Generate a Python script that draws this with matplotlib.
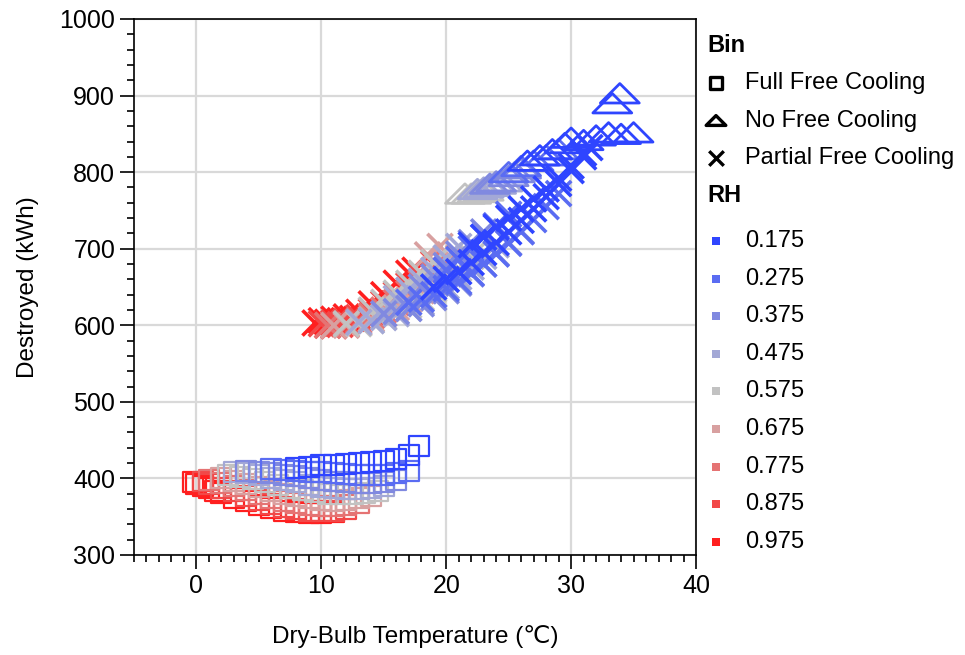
import numpy as np
import matplotlib
matplotlib.use('Agg')
import matplotlib.pyplot as plt
from matplotlib.path import Path

plt.rcParams['font.family'] = ['Liberation Sans', 'DejaVu Sans']

# RH bins and their colours (blue = dry, red = humid)
rh_levels = [0.175, 0.275, 0.375, 0.475, 0.575, 0.675, 0.775, 0.875, 0.975]
rh_colors = ['#2f45ff', '#5a6cf2', '#8089e0', '#a3a8d6', '#c2c2c2',
             '#d8a0a0', '#e57373', '#f24848', '#ff1f1f']

# Full Free Cooling (squares)
ffc_temp = [-0.3, 0, 0.5, 1, 1.5, 2, 3, 4, 5, 6, 7, 8, 9, 10, 11,
            0.5, 1, 2, 3, 4, 5, 6, 7, 8, 9, 10, 11, 12,
            1, 2, 3, 4, 5, 6, 7, 8, 9, 10, 11, 12, 13,
            2, 3, 4, 5, 6, 7, 8, 9, 10, 11, 12, 13, 14,
            2.5, 3.5, 4.5, 5.5, 6.5, 7.5, 8.5, 9.5, 10.5, 11.5, 12.5, 13.5, 14.5,
            3, 4, 5, 6, 7, 8, 9, 10, 11, 12, 13, 14, 15,
            4, 5, 6, 7, 8, 9, 10, 11, 12, 13, 14, 15, 16,
            6, 7, 8, 9, 10, 11, 12, 13, 14, 15, 16, 17,
            8, 9, 10, 11, 12, 13, 14, 15, 16, 17, 17.8]
ffc_kwh = [395, 393, 390, 387, 384, 381, 375, 370, 365, 361, 358, 356, 355, 355, 356,
           396, 393, 388, 383, 377, 372, 367, 363, 360, 358, 357, 358, 360,
           398, 394, 390, 385, 380, 375, 371, 368, 365, 364, 364, 365, 368,
           400, 397, 393, 389, 384, 380, 377, 374, 372, 371, 372, 374, 377,
           404, 402, 399, 395, 391, 388, 385, 382, 380, 379, 379, 381, 384,
           408, 407, 404, 401, 398, 395, 392, 389, 387, 386, 386, 387, 390,
           410, 409, 407, 405, 403, 400, 398, 396, 395, 394, 394, 395, 398,
           412, 411, 410, 409, 408, 407, 406, 405, 405, 405, 407, 410,
           414, 415, 417, 418, 419, 420, 421, 423, 426, 430, 442]
ffc_rh = ([0.975] * 15 + [0.875] * 13 + [0.775] * 13 + [0.675] * 13 +
          [0.575] * 13 + [0.475] * 13 + [0.375] * 13 + [0.275] * 12 + [0.175] * 11)

# No Free Cooling (triangles)
nfc_temp = [21.5, 22, 22.5, 23,
            22.5, 23, 23.5, 24, 24.5,
            23.5, 24, 25, 25.5, 26,
            25, 26, 27, 28, 29,
            26.5, 27.5, 28.5, 29.5, 30, 31, 32, 33, 34, 35, 33.3, 33.9]
nfc_kwh = [772, 772, 774, 776,
           778, 780, 782, 785, 788,
           785, 788, 795, 800, 805,
           800, 808, 815, 822, 830,
           815, 822, 830, 838, 845, 842, 848, 852, 850, 852, 890, 903]
nfc_rh = [0.575] * 4 + [0.475] * 5 + [0.375] * 5 + [0.275] * 5 + [0.175] * 12

# Partial Free Cooling (crosses)
pfc_temp = [9.5, 10, 10.5, 11, 11.5, 12, 12.5, 13, 14, 15, 16, 17, 17.5,
            10, 10.5, 11, 11.5, 12, 13, 14, 15, 16, 17, 18, 19,
            10.5, 11, 12, 13, 14, 15, 16, 17, 18, 19, 20,
            11, 12, 13, 14, 15, 16, 17, 18, 19, 20, 21, 18.5, 19.5,
            12, 13, 14, 15, 16, 17, 18, 19, 20, 21, 22,
            14, 15, 16, 17, 18, 19,
            13, 14, 15, 16, 17, 18, 19, 20, 21, 22, 23, 24,
            16, 17, 18, 19, 20, 21,
            15, 16, 17, 18, 19, 20, 21, 22, 23, 24, 25, 26,
            18, 19, 20, 21, 22, 23,
            17, 18, 19, 20, 21, 22, 23, 24, 25, 26, 27, 28, 29,
            20, 21, 22, 23, 24, 25,
            19, 20, 21, 22, 23, 24, 25, 26, 27, 28, 29, 30, 31, 31.5,
            22, 23, 24, 25, 26, 27, 28, 29, 30, 31]
pfc_kwh = [603, 606, 604, 608, 606, 611, 609, 617, 628, 640, 655, 668, 672,
           602, 600, 603, 601, 605, 610, 618, 628, 640, 652, 665, 680,
           600, 599, 601, 606, 612, 620, 630, 642, 655, 668, 683,
           600, 600, 603, 608, 615, 623, 633, 645, 658, 672, 688, 692, 703,
           602, 602, 606, 611, 618, 626, 636, 647, 660, 674, 690,
           620, 630, 642, 655, 668, 682,
           604, 606, 610, 615, 622, 630, 640, 651, 663, 676, 690, 705,
           635, 646, 658, 672, 688, 703,
           615, 618, 622, 628, 636, 645, 655, 667, 680, 694, 708, 723,
           650, 663, 678, 693, 708, 722,
           630, 634, 640, 648, 657, 668, 680, 693, 707, 722, 738, 755, 772,
           672, 686, 700, 715, 730, 745,
           650, 660, 670, 682, 695, 708, 722, 737, 752, 768, 785, 802, 820, 832,
           705, 715, 728, 740, 752, 765, 778, 792, 808, 825]
pfc_rh = ([0.975] * 13 + [0.875] * 12 + [0.775] * 11 + [0.675] * 13 +
          [0.575] * 11 + [0.575] * 6 + [0.475] * 12 + [0.475] * 6 +
          [0.375] * 12 + [0.375] * 6 + [0.275] * 13 + [0.275] * 6 +
          [0.175] * 14 + [0.175] * 10)

color_of = dict(zip(rh_levels, rh_colors))

# wide, flat triangle like the reference
flat_tri = Path([(-1, -0.5), (1, -0.5), (0, 0.5), (-1, -0.5)],
                [Path.MOVETO, Path.LINETO, Path.LINETO, Path.CLOSEPOLY])

fig = plt.figure(figsize=(9.65, 6.55), dpi=100)
ax = fig.add_axes([134 / 965, 1 - 555 / 655, 562 / 965, 536 / 655])

ax.scatter(nfc_temp, nfc_kwh, s=784, marker=flat_tri, facecolors='none',
           edgecolors=[color_of[r] for r in nfc_rh], linewidths=2, zorder=3)
ax.scatter(pfc_temp, pfc_kwh, s=330, marker='x',
           c=[color_of[r] for r in pfc_rh], linewidths=2.6, zorder=3)
ax.scatter(ffc_temp, ffc_kwh, s=207, marker='s', facecolors='none',
           edgecolors=[color_of[r] for r in ffc_rh], linewidths=1.6, zorder=3)

ax.set_xlim(-5, 40)
ax.set_ylim(300, 1000)
ax.set_xticks(np.arange(0, 41, 10))
ax.set_xticks(np.arange(-5, 41, 1), minor=True)
ax.set_yticks(np.arange(300, 1001, 100))
ax.set_yticks(np.arange(300, 1001, 20), minor=True)
ax.grid(True, which='major', color='#d9d9d9', linewidth=1.6, zorder=0)
ax.set_axisbelow(True)
for sp in ax.spines.values():
    sp.set_linewidth(1.2)
ax.tick_params(which='major', length=10, width=1.2, labelsize=18, direction='out')
ax.tick_params(which='minor', length=5, width=1.2, direction='out')

ax.set_xlabel('Dry-Bulb Temperature (\u2103)', fontsize=17.5)
ax.set_ylabel('Destroyed (kWh)', fontsize=17.5)
ax.xaxis.set_label_coords(0.5, -0.153)
ax.xaxis.label.set_va('center')
ax.yaxis.set_label_coords(-0.189, 0.5)
ax.yaxis.label.set_va('center')

# legend drawn on an overlay in pixel coordinates
lax = fig.add_axes([0, 0, 1, 1])
lax.set_xlim(0, 965)
lax.set_ylim(655, 0)
lax.axis('off')

lax.text(707, 45, 'Bin', fontsize=17, fontweight='bold', va='center')
bin_names = ['Full Free Cooling', 'No Free Cooling', 'Partial Free Cooling']
bin_markers = ['s', flat_tri, 'x']
bin_sizes = [80, 200, 110]
for i, (name, mk, sz) in enumerate(zip(bin_names, bin_markers, bin_sizes)):
    y = 83 + 37.5 * i
    if mk == 'x':
        lax.scatter(716, y, s=sz, marker=mk, c='black', linewidths=2.4)
    else:
        lax.scatter(716, y, s=sz, marker=mk, facecolors='none',
                    edgecolors='black', linewidths=2.4)
    lax.text(745, y, name, fontsize=17, va='center')

lax.text(707, 196, 'RH', fontsize=17, fontweight='bold', va='center')
for i, (lvl, col) in enumerate(zip(rh_levels, rh_colors)):
    y = 241 + 37.6 * i
    lax.scatter(716, y, s=40, marker='s', c=col, linewidths=0)
    lax.text(745, y, f'{lvl:.3f}', fontsize=17, va='center')

fig.savefig('out.png', dpi=100)
